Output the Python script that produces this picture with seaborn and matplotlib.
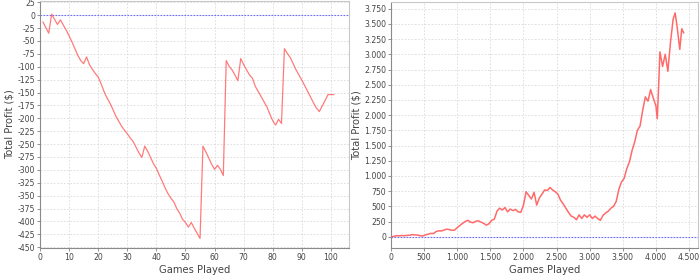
import matplotlib
matplotlib.use("Agg")
import matplotlib.pyplot as plt
import seaborn as sns
import pandas as pd
from matplotlib.ticker import FuncFormatter, MultipleLocator

# ---- data: left panel (first ~100 games) ----
games_left = list(range(1, 102))
profit_left = [
    -13, -24, -35, 2, -8, -18, -9, -19, -29, -40,
    -52, -65, -78, -88, -94, -81, -96, -105, -113, -120,
    -133, -148, -160, -170, -182, -195, -205, -215, -223, -230,
    -238, -245, -256, -267, -276, -254, -264, -276, -288, -297,
    -310, -322, -335, -346, -355, -362, -375, -384, -396, -402,
    -411, -402, -413, -423, -433, -254, -265, -277, -289, -299,
    -291, -299, -311, -88, -99, -106, -116, -127, -84, -96,
    -106, -116, -122, -138, -148, -158, -168, -178, -192, -205,
    -213, -202, -210, -65, -74, -82, -94, -106, -116, -126,
    -137, -148, -159, -170, -180, -187, -176, -165, -154, -154,
    -154,
]

# ---- data: right panel (all games) ----
games_right = [
    0, 40, 80, 120, 160, 200, 240, 280, 320, 360,
    400, 440, 480, 520, 560, 600, 640, 680, 720, 760,
    800, 840, 880, 920, 960, 1000, 1040, 1080, 1120, 1160,
    1200, 1240, 1280, 1320, 1360, 1400, 1440, 1480, 1520, 1560,
    1600, 1640, 1680, 1720, 1760, 1800, 1840, 1880, 1920, 1960,
    2000, 2040, 2080, 2120, 2160, 2200, 2240, 2280, 2320, 2360,
    2400, 2440, 2480, 2520, 2560, 2600, 2640, 2680, 2720, 2760,
    2800, 2840, 2880, 2920, 2960, 3000, 3040, 3080, 3120, 3160,
    3200, 3240, 3280, 3320, 3360, 3400, 3440, 3480, 3520, 3560,
    3600, 3640, 3680, 3720, 3760, 3800, 3840, 3880, 3920, 3960,
    4000, 4020, 4040, 4060, 4100, 4140, 4180, 4220, 4260, 4290,
    4320, 4360, 4390, 4420,
]
profit_right = [
    0, 5, 18, 15, 20, 17, 22, 25, 35, 30,
    28, 18, 12, 30, 42, 55, 52, 85, 98, 95,
    110, 125, 118, 105, 110, 150, 185, 220, 250, 270,
    240, 230, 255, 262, 240, 220, 190, 215, 270, 290,
    420, 470, 440, 480, 410, 455, 430, 450, 410, 400,
    520, 740, 680, 620, 730, 520, 640, 700, 770, 760,
    810, 770, 740, 700, 600, 540, 470, 400, 340, 320,
    280, 360, 300, 360, 320, 360, 300, 340, 300, 270,
    350, 390, 420, 470, 500, 580, 780, 900, 960, 1120,
    1230, 1420, 1560, 1750, 1820, 2080, 2300, 2230, 2420, 2280,
    2150, 1940, 2460, 3040, 2800, 3000, 2720, 3200, 3580, 3680,
    3450, 3080, 3420, 3350,
]

df_left = pd.DataFrame({"Games Played": games_left, "Total Profit ($)": profit_left})
df_right = pd.DataFrame({"Games Played": games_right, "Total Profit ($)": profit_right})

sns.set_style("white")
plt.rcParams["font.family"] = ["DejaVu Sans"]
plt.rcParams["axes.unicode_minus"] = False

fig = plt.figure(figsize=(7.0, 2.76), dpi=100)
W, H = 700, 276
ax1 = fig.add_axes([40 / W, 1 - 248 / H, (349 - 40) / W, (248 - 1) / H])
ax2 = fig.add_axes([391 / W, 1 - 248 / H, (698 - 391) / W, (248 - 2) / H])

line_color = "#ff5a5a"
grid_kw = dict(color="#d9d9d9", linestyle=(0, (2, 2)), linewidth=0.6)


def dot_thousands(v, pos):
    return f"{int(round(v)):,}".replace(",", ".")


def style(ax, ylabel_x):
    ax.set_facecolor("white")
    ax.grid(True, **grid_kw)
    ax.set_axisbelow(True)
    for s in ["top", "right"]:
        ax.spines[s].set_color("#c8c8c8")
        ax.spines[s].set_linewidth(0.8)
    for s in ["left", "bottom"]:
        ax.spines[s].set_color("#8a8a8a")
        ax.spines[s].set_linewidth(0.8)
    ax.tick_params(axis="both", which="major", direction="out", length=2,
                   width=0.6, color="#808080", labelsize=5.6,
                   labelcolor="#444444", pad=1.5, left=True, bottom=True)
    ax.axhline(0, color="#6f6fff", linestyle=(0, (1.5, 1.2)), linewidth=0.8, zorder=1)
    ax.set_xlabel("Games Played", fontsize=7.2, color="#444444", labelpad=2)
    ax.set_ylabel("Total Profit ($)", fontsize=7.2, color="#444444")
    ax.yaxis.set_label_coords(ylabel_x, 0.5)


sns.lineplot(data=df_left, x="Games Played", y="Total Profit ($)", ax=ax1,
             color=line_color, linewidth=0.9, alpha=0.8, zorder=3)
style(ax1, (15 - 40) / 309)
ax1.set_xlim(0, 106.2)
ax1.set_ylim(-451.5, 27.5)
ax1.xaxis.set_major_locator(MultipleLocator(10))
ax1.yaxis.set_major_locator(MultipleLocator(25))

sns.lineplot(data=df_right, x="Games Played", y="Total Profit ($)", ax=ax2,
             color=line_color, linewidth=1.1, alpha=0.9, zorder=3)
style(ax2, (362 - 391) / 307)
ax2.set_xlim(0, 4635)
ax2.set_ylim(-185, 3860)
ax2.xaxis.set_major_locator(MultipleLocator(500))
ax2.yaxis.set_major_locator(MultipleLocator(250))
ax2.xaxis.set_major_formatter(FuncFormatter(dot_thousands))
ax2.yaxis.set_major_formatter(FuncFormatter(dot_thousands))

fig.savefig("out.png", dpi=100, facecolor="white")
